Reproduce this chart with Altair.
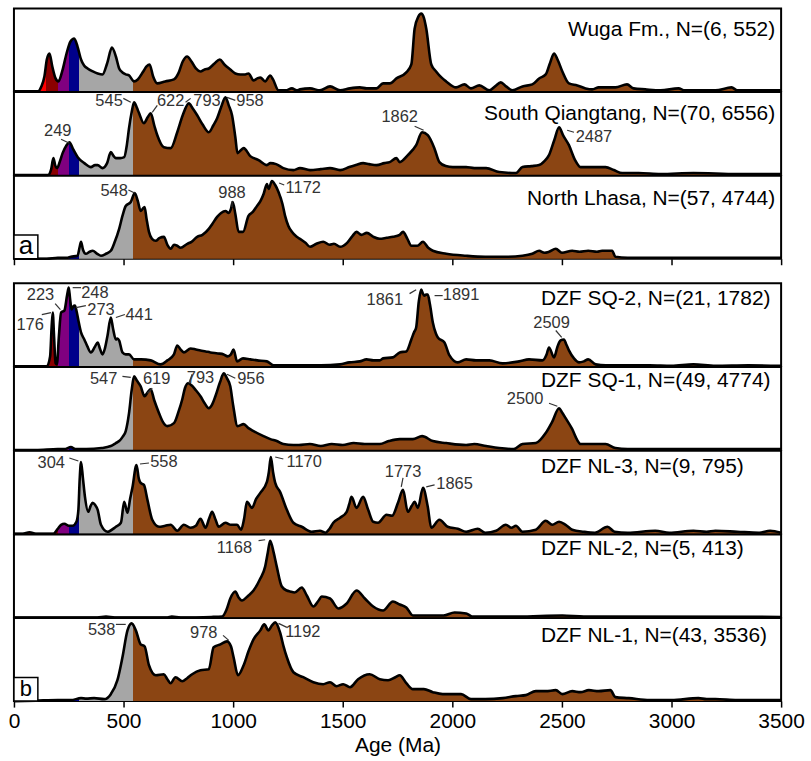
import altair as alt
import pandas as pd

AGE_MAX = 3500
PANEL_W = 770
PANEL_H = 83.3
Y_MAX = 83.3
FONT = "Liberation Sans"
TICKS = [0, 500, 1000, 1500, 2000, 2500, 3000, 3500]

# time-scale boundaries (Ma) and fill colours
BOUNDS = [0, 145, 201, 252, 299, 541, 3500]
FILLS = ["#FF0000", "#8B0000", "#800080", "#00008B", "#A6A6A6", "#8B4513"]

# ---- KDE curves: (age Ma, relative density) ----
wuga = [(0,0),(108,0),(125,5),(139,15),(150,32),(162,38),(175,25),(190,13),(203,10),(220,20),(240,38),(258,50),(275,53),(290,45),(306,32),(320,26),(336,23),(360,20),(382,18),(404,17),(425,28),(447,44),(465,35),(480,23),(495,19),(510,17),(525,16),(548,10),(565,12),(590,20),(605,25),(619,27),(635,15),(654,8),(690,10),(730,12),(750,18),(770,30),(790,35),(810,30),(830,23),(851,20),(870,22),(889,23),(915,28),(939,32),(960,27),(987,22),(1010,18),(1033,17),(1055,17),(1070,18),(1093,11),(1110,13),(1124,14),(1146,10),(1169,16),(1182,12),(1207,1),(1240,1),(1268,3),(1290,1),(1305,2),(1351,3),(1396,1),(1442,5),(1488,1),(1533,3),(1578,4),(1609,3),(1654,3),(1684,8),(1715,8),(1745,13),(1790,19),(1813,27),(1828,63),(1845,75),(1858,78),(1870,74),(1881,63),(1904,27),(1926,20),(1950,14),(1972,10),(2017,4),(2055,7),(2085,3),(2123,6),(2169,1),(2195,5),(2221,9),(2245,5),(2274,1),(2320,5),(2365,7),(2396,13),(2426,17),(2445,28),(2464,38),(2480,32),(2502,20),(2532,8),(2570,6),(2608,3),(2638,2),(2668,4),(2744,4),(2797,7),(2827,3),(2880,2),(2950,1),(3032,3),(3060,1),(3200,1),(3274,4),(3300,1),(3400,1),(3500,1)]

south_qt = [(0,0),(155,0),(170,6),(180,17),(188,10),(197,7),(210,14),(222,22),(240,30),(253,33),(270,26),(291,18),(321,12),(351,8),(370,10),(382,10),(404,7),(425,12),(442,23),(455,19),(465,17),(485,17),(503,18),(515,30),(525,47),(537,63),(548,73),(560,68),(571,62),(593,52),(610,58),(624,62),(640,50),(654,40),(684,28),(715,27),(745,43),(770,60),(798,72),(815,67),(836,60),(860,51),(889,43),(910,50),(927,57),(945,68),(965,78),(980,70),(995,60),(1010,38),(1020,22),(1035,25),(1048,27),(1078,19),(1116,15),(1154,10),(1170,12),(1196,11),(1229,7),(1275,5),(1305,7),(1351,5),(1400,6),(1442,7),(1488,5),(1530,8),(1560,10),(1593,12),(1620,11),(1654,10),(1690,12),(1714,13),(1745,17),(1760,13),(1797,20),(1835,30),(1862,43),(1888,40),(1918,27),(1941,13),(1970,9),(2002,8),(2063,8),(2100,7),(2154,7),(2214,3),(2290,2),(2320,8),(2360,9),(2396,10),(2420,14),(2441,20),(2465,35),(2487,48),(2505,40),(2532,30),(2560,15),(2585,8),(2638,8),(2699,8),(2737,5),(2775,2),(2850,2),(2950,1),(3100,2),(3300,1),(3500,1)]

north_lhasa = [(0,0),(150,0),(200,1),(240,1),(260,2),(290,3),(300,12),(306,17),(315,9),(328,5),(345,7),(359,8),(380,5),(397,3),(420,5),(442,8),(460,17),(480,30),(495,43),(510,53),(533,57),(551,66),(565,58),(578,48),(587,50),(596,52),(605,40),(616,27),(630,20),(647,18),(665,21),(684,22),(700,14),(715,10),(730,14),(745,13),(760,11),(791,15),(810,17),(836,22),(860,24),(889,30),(905,35),(927,42),(945,46),(965,48),(980,46),(990,50),(998,57),(1010,45),(1025,27),(1045,27),(1070,43),(1090,47),(1109,53),(1125,58),(1139,65),(1154,75),(1162,70),(1177,78),(1192,74),(1207,67),(1225,55),(1237,43),(1252,33),(1268,27),(1290,22),(1305,20),(1330,16),(1351,12),(1380,15),(1411,17),(1440,14),(1460,15),(1488,12),(1520,16),(1545,23),(1563,27),(1585,24),(1610,26),(1640,22),(1669,20),(1700,21),(1730,22),(1760,24),(1775,27),(1795,20),(1813,13),(1840,13),(1866,17),(1890,11),(1911,8),(1972,5),(2063,3),(2150,2),(2250,2),(2320,3),(2365,5),(2396,8),(2420,6),(2441,7),(2472,10),(2500,6),(2547,8),(2580,7),(2620,8),(2660,7),(2683,8),(2729,8),(2744,2),(2800,1),(2950,1),(3100,1),(3300,1),(3500,1)]

dzf_sq2 = [(0,0),(150,0),(165,10),(172,40),(177,54),(183,30),(190,3),(196,2),(205,30),(215,54),(230,56),(243,72),(250,79),(256,68),(263,57),(270,60),(278,61),(286,55),(294,46),(306,34),(321,27),(335,20),(351,14),(370,20),(382,24),(392,18),(404,12),(415,18),(427,31),(442,49),(452,38),(465,27),(472,28),(480,26),(495,14),(510,12),(525,12),(548,7),(580,7),(624,6),(669,2),(700,6),(730,12),(745,21),(760,17),(775,14),(806,18),(830,17),(851,16),(875,15),(896,14),(930,13),(957,12),(975,10),(990,12),(1002,17),(1018,5),(1045,8),(1078,7),(1110,6),(1154,5),(1184,1),(1250,1),(1330,1),(1400,1),(1488,2),(1530,4),(1578,5),(1609,7),(1640,6),(1669,6),(1684,8),(1729,9),(1760,14),(1790,15),(1813,27),(1825,34),(1835,39),(1847,65),(1858,77),(1866,73),(1873,71),(1880,72),(1888,72),(1898,62),(1911,44),(1925,33),(1934,29),(1964,24),(1987,11),(2025,4),(2063,7),(2108,6),(2169,6),(2229,3),(2305,5),(2350,7),(2411,6),(2430,12),(2441,19),(2464,9),(2480,20),(2494,26),(2509,27),(2520,22),(2532,16),(2555,8),(2578,4),(2600,5),(2620,7),(2654,2),(2700,1),(2800,1),(2900,1),(3000,0.5),(3100,2),(3200,0.5),(3350,1),(3500,0.5)]

dzf_sq1 = [(0,0),(100,0),(200,1),(230,1),(260,3),(280,1),(330,1),(400,2),(442,4),(465,7),(480,9),(495,13),(510,19),(525,37),(537,60),(548,74),(560,70),(578,64),(596,54),(610,58),(624,61),(640,50),(662,37),(680,28),(700,24),(730,27),(750,38),(768,51),(780,62),(795,67),(810,65),(830,60),(851,54),(870,47),(889,42),(905,46),(919,54),(940,68),(957,77),(972,72),(987,64),(1000,45),(1020,24),(1048,26),(1070,22),(1093,19),(1139,14),(1170,11),(1199,9),(1229,6),(1275,5),(1300,5),(1350,6),(1400,4),(1450,6),(1500,5),(1550,7),(1600,6),(1669,6),(1710,9),(1760,11),(1820,11),(1862,14),(1911,9),(1972,7),(2063,5),(2100,6),(2154,4),(2214,2),(2280,1),(2320,6),(2381,7),(2426,17),(2455,28),(2487,42),(2500,38),(2517,32),(2547,21),(2570,10),(2585,6),(2638,6),(2699,6),(2744,2),(2800,1),(3500,1)]

dzf_nl3 = [(0,0),(40,0),(71,1.5),(100,0),(180,0),(200,5),(215,9),(230,10),(250,8),(268,8),(285,12),(294,24),(300,55),(306,72),(315,55),(324,37),(339,22),(350,28),(359,31),(370,29),(382,24),(397,9),(427,2),(465,7),(488,11),(503,32),(518,21),(530,35),(541,47),(559,69),(570,55),(578,51),(593,49),(609,34),(631,14),(662,7),(690,8),(715,9),(745,3),(775,9),(806,6),(830,8),(851,15),(874,6),(890,15),(904,22),(920,14),(934,7),(965,11),(990,9),(1018,9),(1036,4),(1050,15),(1063,32),(1086,26),(1105,35),(1124,41),(1154,52),(1163,62),(1172,77),(1182,62),(1192,51),(1214,42),(1245,24),(1275,11),(1313,7),(1358,2),(1396,3),(1420,1),(1440,5),(1457,11),(1488,16),(1518,22),(1530,30),(1540,37),(1563,26),(1593,37),(1616,24),(1639,12),(1661,11),(1700,19),(1725,18),(1752,31),(1775,44),(1797,22),(1815,28),(1828,32),(1843,26),(1866,46),(1888,27),(1904,6),(1941,14),(1979,7),(2025,5),(2063,2),(2116,5),(2150,1),(2200,3),(2244,9),(2270,6),(2290,8),(2320,2),(2381,4),(2426,13),(2456,9),(2487,12),(2517,9),(2547,4),(2600,2),(2650,1),(2708,7),(2740,2),(2800,1),(2926,3),(2990,1),(3100,3),(3160,2),(3200,3),(3300,2),(3400,1),(3450,3),(3500,1)]

dzf_nl2 = [(0,0),(380,0),(420,0.8),(460,0),(700,0),(720,0.8),(760,0),(900,0.5),(950,1),(970,8),(987,19),(1010,26),(1025,20),(1040,17),(1070,22),(1093,27),(1124,39),(1146,51),(1158,65),(1169,77),(1185,65),(1199,51),(1222,31),(1245,27),(1260,26),(1280,25),(1313,30),(1336,22),(1366,11),(1390,17),(1404,21),(1442,19),(1480,9),(1518,14),(1563,27),(1601,19),(1639,11),(1684,7),(1729,16),(1760,13),(1790,10),(1820,2),(1900,2),(1960,2),(2010,5),(2063,4),(2090,1),(2300,1),(2502,2),(2600,1),(3500,0.5)]

dzf_nl1 = [(0,0),(100,0.5),(200,1),(260,1),(306,3),(330,2.5),(366,3),(412,2),(442,7),(472,21),(495,44),(518,71),(537,78),(556,71),(578,57),(596,55),(616,36),(647,26),(684,27),(700,22),(715,18),(737,24),(768,20),(790,23),(813,27),(851,31),(889,32),(911,54),(942,57),(972,60),(990,55),(1002,44),(1022,26),(1048,36),(1070,50),(1093,62),(1124,71),(1142,77),(1161,71),(1177,76),(1192,79),(1214,69),(1230,55),(1245,44),(1275,29),(1320,24),(1366,19),(1411,17),(1442,19),(1472,15),(1502,17),(1533,14),(1570,22),(1623,27),(1669,22),(1707,21),(1740,24),(1760,26),(1790,18),(1820,12),(1870,12),(1911,9),(1956,7),(2002,7),(2040,7),(2085,2),(2150,2),(2230,3),(2290,5),(2335,6),(2381,10),(2426,10),(2472,11),(2502,7),(2547,10),(2585,9),(2623,11),(2668,10),(2721,11),(2744,4),(2805,3),(2900,1),(3000,1),(3123,3),(3160,2),(3200,2),(3300,1),(3500,1)]

# ---- peak annotations: label, label (age, dens), leader (age1, dens1, age2, dens2) ----
peaks_south_qt = [("249",200,44,215,36,253,32),("545",434,74,499,77,533,73),("622",715,74,631,63,654,70),
                  ("793",881,74,783,73,806,77),("958",1077,74,972,78,1010,75),("1862",1760,58,1828,49,1869,45),
                  ("2487",2646,38,2524,45,2555,43)]
peaks_north_lhasa = [("548",457,68,522,69,551,66),("988",995,66,995,58,995,52),("1172",1320,71,1210,76,1233,74)]
peaks_sq2 = [("176",74,41,127,52,169,54),("223",121,72,188,63,212,57),("248",369,73.5,268,79,306,79),
             ("273",397,56.5,283,59,328,61),("441",571,52,465,49,506,52),("1861",1692,67,1805,73,1835,77),
             ("1891",2040,72,1919,71,1956,71),("2509",2453,43,2472,36,2499,29)]
peaks_sq1 = [("547",409,71,495,74,533,73),("619",651,71,609,57,631,62),("793",851,72,798,67,813,76),
             ("956",1081,71,972,76,1010,72),("2500",2332,51,2441,47,2479,44)]
peaks_nl3 = [("304",170,71,253,76,294,73),("558",684,72,575,70,616,71),("1170",1324,72,1192,77,1229,75),
             ("1773",1775,62,1775,56,1767,47),("1865",2010,50,1881,47,1919,49)]
peaks_nl2 = [("1168",1006,70,1116,77,1146,78)]
peaks_nl1 = [("538",400,71,465,77,510,77),("978",866,68,954,66,980,61),("1192",1318,69,1207,78,1245,74)]

stops = []
for i, c in enumerate(FILLS):
    stops.append({"offset": BOUNDS[i] / AGE_MAX, "color": c})
    stops.append({"offset": BOUNDS[i + 1] / AGE_MAX, "color": c})
GRAD = {"gradient": "linear", "x1": 0, "y1": 0, "x2": 1, "y2": 0, "stops": stops}

XS = alt.Scale(domain=[0, AGE_MAX], nice=False, zero=False)
YS = alt.Scale(domain=[0, Y_MAX], nice=False)


def make_axis(mode):
    if mode == "none":
        return None
    if mode == "ticks":
        return alt.Axis(values=TICKS, labels=False, title=None, domain=False, grid=False,
                        ticks=True, tickSize=6, tickWidth=1.5, tickColor="black")
    return alt.Axis(values=TICKS, format="d", title="Age (Ma)", domain=False, grid=False,
                    ticks=True, tickSize=6, tickWidth=1.5, tickColor="black",
                    labelFont=FONT, labelFontSize=21, labelColor="black", labelPadding=3,
                    labelFlush=False, labelOverlap=False,
                    titleFont=FONT, titleFontSize=21, titleFontWeight="normal", titleColor="black",
                    titlePadding=4)


def panel(curve, label, align, lx, ly, peaks, axis_mode, letter=None, letter_size=24):
    ax = make_axis(axis_mode)
    ttl = "Age (Ma)" if axis_mode == "full" else None

    def X(f):
        return alt.X(f, type="quantitative", scale=XS, axis=ax, title=ttl)

    def Y(f):
        return alt.Y(f, type="quantitative", scale=YS, axis=None)

    ages, dens = zip(*curve)
    df = pd.DataFrame({"age": ages, "den": dens})
    base = alt.Chart(df)
    area = base.mark_area(color=GRAD, interpolate="monotone").encode(x=X("age"), y=Y("den"))
    line = base.mark_line(color="black", strokeWidth=2.6, interpolate="monotone",
                          strokeJoin="round").encode(x=X("age"), y=Y("den"))
    layers = [area, line]

    if peaks:
        pdf = pd.DataFrame(peaks, columns=["txt", "age", "den", "a1", "d1", "a2", "d2"])
        pb = alt.Chart(pdf)
        layers.append(pb.mark_rule(color="#333333", strokeWidth=1.2).encode(
            x=X("a1"), y=Y("d1"), x2="a2:Q", y2="d2:Q"))
        layers.append(pb.mark_text(font=FONT, fontSize=16.5, color="#333333", baseline="middle").encode(
            x=X("age"), y=Y("den"), text="txt:N"))

    ldf = pd.DataFrame({"t": [label]})
    layers.append(alt.Chart(ldf).mark_text(font=FONT, fontSize=21, color="black", align=align,
                                           baseline="middle").encode(
        x=alt.value(lx), y=alt.value(ly), text="t:N"))

    if letter:
        bdf = pd.DataFrame({"t": [letter]})
        layers.append(alt.Chart(bdf).mark_rect(fill="white", stroke="black", strokeWidth=1.5).encode(
            x=alt.value(0), x2=alt.value(24), y=alt.value(59.5), y2=alt.value(PANEL_H)))
        layers.append(alt.Chart(bdf).mark_text(font=FONT, fontSize=letter_size, color="black",
                                               baseline="middle").encode(
            x=alt.value(12), y=alt.value(71), text="t:N"))

    return alt.layer(*layers).properties(width=PANEL_W, height=PANEL_H)


RA = PANEL_W - 6
LB = 529
group_a = alt.vconcat(
    panel(wuga, "Wuga Fm., N=(6, 552)", "right", RA, 22, None, "none"),
    panel(south_qt, "South Qiangtang, N=(70, 6556)", "right", RA, 22, peaks_south_qt, "none"),
    panel(north_lhasa, "North Lhasa, N=(57,   4744)", "right", RA, 23, peaks_north_lhasa, "ticks", "a", 26),
    spacing=0, bounds="flush")

group_b = alt.vconcat(
    panel(dzf_sq2, "DZF SQ-2, N=(21, 1782)", "left", LB, 16, peaks_sq2, "none"),
    panel(dzf_sq1, "DZF SQ-1, N=(49, 4774)", "left", LB, 14.5, peaks_sq1, "none"),
    panel(dzf_nl3, "DZF NL-3, N=(9, 795)", "left", LB, 16, peaks_nl3, "none"),
    panel(dzf_nl2, "DZF NL-2, N=(5, 413)", "left", LB, 14.5, peaks_nl2, "none"),
    panel(dzf_nl1, "DZF NL-1, N=(43, 3536)", "left", LB, 17.5, peaks_nl1, "full", "b", 22),
    spacing=0, bounds="flush")

chart = alt.vconcat(group_a, group_b, spacing=15).properties(
    padding={"left": 7, "top": 6, "right": 5, "bottom": 5},
    background="white",
).configure_view(stroke="black", strokeWidth=2)

chart.save("out.html", embed_options={"renderer": "svg", "actions": False})
